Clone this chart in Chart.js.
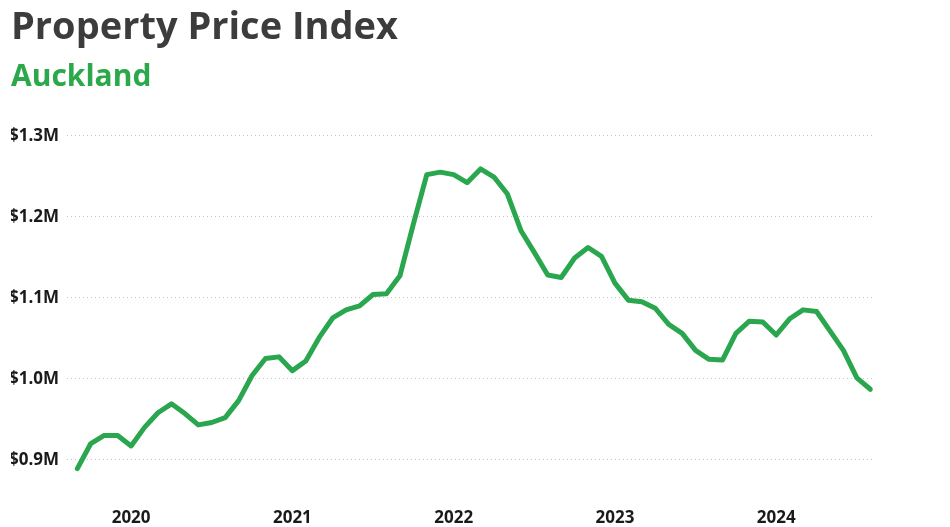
<!DOCTYPE html>
<html>
<head>
<meta charset="utf-8">
<script src="https://cdn.jsdelivr.net/npm/chart.js@4"></script>
<style>
  html, body { margin: 0; padding: 0; background: #fff; }
  #wrap { width: 950px; height: 527px; }
</style>
</head>
<body>
<div id="wrap"><canvas id="chart"></canvas></div>
<script>
// monthly index, Sep 2019 .. Aug 2024, values in $K
const months = [
  '2019-09','2019-10','2019-11','2019-12',
  '2020-01','2020-02','2020-03','2020-04','2020-05','2020-06','2020-07','2020-08','2020-09','2020-10','2020-11','2020-12',
  '2021-01','2021-02','2021-03','2021-04','2021-05','2021-06','2021-07','2021-08','2021-09','2021-10','2021-11','2021-12',
  '2022-01','2022-02','2022-03','2022-04','2022-05','2022-06','2022-07','2022-08','2022-09','2022-10','2022-11','2022-12',
  '2023-01','2023-02','2023-03','2023-04','2023-05','2023-06','2023-07','2023-08','2023-09','2023-10','2023-11','2023-12',
  '2024-01','2024-02','2024-03','2024-04','2024-05','2024-06','2024-07','2024-08'
]
const prices = [
  889, 920, 930, 930,
  917, 940, 958, 969, 957, 943, 946, 952, 973, 1004, 1025, 1027,
  1010, 1022, 1051, 1075, 1085, 1090, 1104, 1105, 1127, 1191, 1252, 1255,
  1252, 1242, 1259, 1249, 1228, 1183, 1156, 1128, 1125, 1149, 1162, 1151,
  1118, 1097, 1095, 1087, 1067, 1056, 1035, 1024, 1023, 1056, 1071, 1070,
  1054, 1074, 1085, 1083, 1059, 1035, 1001, 987
]
const yTicks = [900, 1000, 1100, 1200, 1300]
const title = 'Property Price Index'
const subtitle = 'Auckland'

const green = '#2aa64f'
const yearTicks = months.map((m, i) => m.endsWith('-01') ? i : null).filter(i => i !== null)

new Chart(document.getElementById('chart'), {
  type: 'line',
  data: {
    datasets: [{
      label: subtitle,
      data: prices.map((v, i) => ({ x: i, y: v })),
      borderColor: green,
      backgroundColor: green,
      borderWidth: 5,
      borderCapStyle: 'round',
      borderJoinStyle: 'round',
      pointRadius: 0,
      tension: 0
    }]
  },
  options: {
    responsive: true,
    maintainAspectRatio: false,
    animation: false,
    layout: { padding: { left: 11, right: 75, top: 0, bottom: 0 } },
    plugins: {
      legend: { display: false },
      tooltip: { enabled: false },
      title: {
        display: true,
        text: title,
        align: 'start',
        color: '#3c3c3c',
        font: { family: 'Open Sans', size: 38, weight: 'bold', lineHeight: 1.2 },
        padding: { top: 5, bottom: 0 }
      },
      subtitle: {
        display: true,
        text: subtitle,
        align: 'start',
        color: '#2aa84a',
        font: { family: 'Open Sans', size: 30, weight: 'bold', lineHeight: 1.2 },
        padding: { top: 9, bottom: 32 }
      }
    },
    scales: {
      x: {
        type: 'linear',
        min: -0.77,
        max: 59.35,
        grid: { display: false },
        border: { display: false },
        afterFit: s => { s.height = 47 },
        afterBuildTicks: s => { s.ticks = yearTicks.map(v => ({ value: v })) },
        ticks: {
          autoSkip: false,
          maxRotation: 0,
          padding: 20,
          color: '#1a1a1a',
          font: { family: 'Open Sans', size: 17, weight: 'bold' },
          callback: v => months[v] ? months[v].slice(0, 4) : ''
        }
      },
      y: {
        min: 875,
        max: 1310,
        border: { display: false, dash: [1, 3] },
        afterFit: s => { s.width = 56 },
        afterBuildTicks: s => { s.ticks = yTicks.map(v => ({ value: v })) },
        grid: {
          color: '#c4c4c4',
          lineWidth: 1,
          drawTicks: false
        },
        ticks: {
          padding: 8,
          color: '#1a1a1a',
          font: { family: 'Open Sans', size: 17, weight: 'bold' },
          callback: v => '$' + (v / 1000).toFixed(1) + 'M'
        }
      }
    }
  }
})
</script>
</body>
</html>
